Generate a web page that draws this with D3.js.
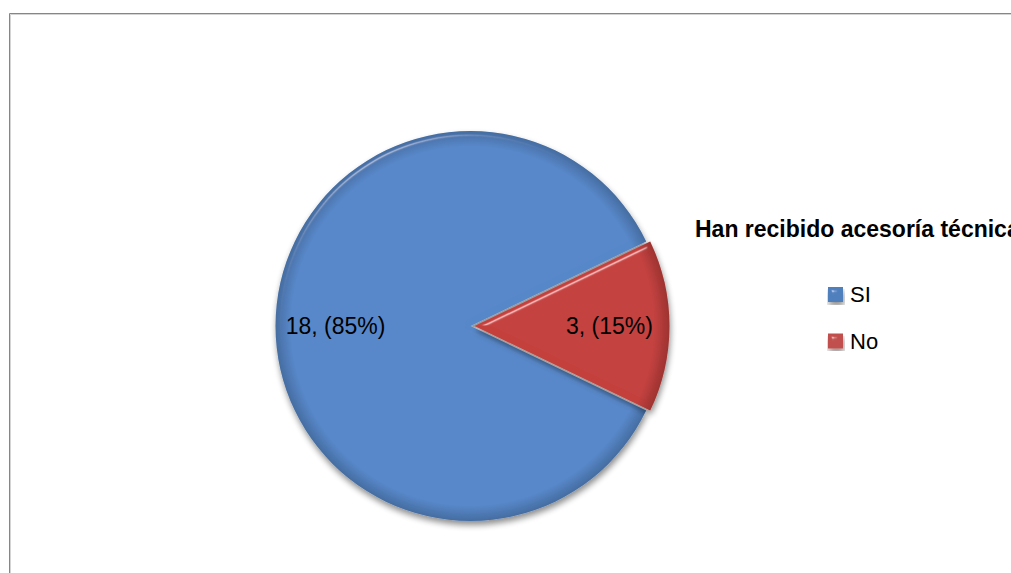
<!DOCTYPE html>
<html>
<head>
<meta charset="utf-8">
<script src="https://cdn.jsdelivr.net/npm/d3@7"></script>
<style>
  html, body { margin: 0; padding: 0; background: #fff; overflow: hidden; }
  text { font-family: "Liberation Sans", Arial, sans-serif; }
</style>
</head>
<body>
<div id="chart"></div>
<script>
var title = 'Han recibido acesoría técnica';
var categories = ['SI', 'No'];
var values = [18, 3];
var percents = ['85%', '15%'];
var color = ['#5788c9', '#c4403d'];
var legendColor = ['#4f7fbd', '#c0504d'];

var width = 1011,
  height = 573;

var svg = d3.select('#chart')
  .append('svg')
  .attr('width', width)
  .attr('height', height)

var defs = svg.append('defs')

// soft shadow + bevel like the office chart
var f = defs.append('filter').attr('id', 'bevel')
  .attr('x', '-10%').attr('y', '-10%').attr('width', '120%').attr('height', '125%')
f.append('feGaussianBlur').attr('in', 'SourceAlpha').attr('stdDeviation', 3).attr('result', 'blur')
f.append('feOffset').attr('in', 'blur').attr('dx', 1).attr('dy', 4).attr('result', 'off')
f.append('feComponentTransfer').attr('in', 'off').attr('result', 'shadow')
  .append('feFuncA').attr('type', 'linear').attr('slope', 0.45)
f.append('feGaussianBlur').attr('in', 'SourceAlpha').attr('stdDeviation', 2.5).attr('result', 'blur2')
var spec = f.append('feSpecularLighting').attr('in', 'blur2')
  .attr('surfaceScale', 4).attr('specularConstant', 0.6)
  .attr('specularExponent', 70).attr('lighting-color', '#ffffff').attr('result', 'spec')
spec.append('feDistantLight').attr('azimuth', 240).attr('elevation', 45)
f.append('feComposite').attr('in', 'spec').attr('in2', 'SourceAlpha').attr('operator', 'in').attr('result', 'specIn')
f.append('feComposite').attr('in', 'SourceGraphic').attr('in2', 'specIn')
  .attr('operator', 'arithmetic').attr('k1', 0).attr('k2', 1).attr('k3', 0.7).attr('k4', 0).attr('result', 'lit')
var merge = f.append('feMerge')
merge.append('feMergeNode').attr('in', 'shadow')
merge.append('feMergeNode').attr('in', 'lit')

// dark rim gradient
var rg = defs.append('radialGradient').attr('id', 'rim')
  .attr('gradientUnits', 'userSpaceOnUse').attr('cx', 0).attr('cy', 0).attr('r', 195)
rg.append('stop').attr('offset', '0.92').attr('stop-color', '#000').attr('stop-opacity', 0)
rg.append('stop').attr('offset', '1').attr('stop-color', '#000').attr('stop-opacity', 0.2)

// frame
svg.append('path')
  .attr('d', 'M10.5,' + height + 'V14.5H' + width)
  .attr('fill', 'none').attr('stroke', '#d4d4d4').attr('stroke-width', 1)
svg.append('path')
  .attr('d', 'M9.5,' + height + 'V13.5H' + width)
  .attr('fill', 'none').attr('stroke', '#868686').attr('stroke-width', 1)

// pie
var radius = 195;
var g = svg.append('g')
  .attr('transform', 'translate(470.5,326)')

var start = Math.PI / 2 + Math.PI * values[1] / d3.sum(values);
var pie = d3.pie().sort(null)
  .startAngle(start).endAngle(start + 2 * Math.PI)
  .value(function (d) { return d; });

var path = d3.arc().outerRadius(radius).innerRadius(0);
var label = d3.arc().outerRadius(270).innerRadius(0);

var explode = [0, 4];

var arc = g.selectAll('.arc')
  .data(pie(values))
  .enter().append('g')
  .attr('class', 'arc')
  .attr('transform', function (d, i) {
    var a = (d.startAngle + d.endAngle) / 2;
    return 'translate(' + (Math.sin(a) * explode[i]) + ',' + (-Math.cos(a) * explode[i]) + ')';
  })

arc.append('path')
  .attr('d', path)
  .attr('fill', function (d, i) { return color[i]; })
  .attr('filter', 'url(#bevel)')

arc.append('path')
  .attr('d', path)
  .attr('fill', 'url(#rim)')

arc.append('text')
  .attr('transform', function (d) { return 'translate(' + label.centroid(d) + ')'; })
  .attr('text-anchor', 'middle')
  .attr('dy', '0.36em')
  .attr('font-size', 23)
  .attr('fill', '#000')
  .text(function (d, i) { return values[i] + ', (' + percents[i] + ')'; })

// title
svg.append('text')
  .attr('x', 695).attr('y', 237)
  .attr('font-size', 23).attr('font-weight', 'bold')
  .attr('fill', '#000')
  .text(title)

// legend
var y = d3.scalePoint().domain(categories).range([294.5, 341]);
var leg = svg.selectAll('.leg')
  .data(categories)
  .enter().append('g')
  .attr('class', 'leg')
  .attr('transform', function (d) { return 'translate(828,' + y(d) + ')'; })

leg.append('rect')
  .attr('x', 0).attr('y', -7.5).attr('width', 15).attr('height', 15)
  .attr('fill', function (d, i) { return legendColor[i]; })
  .attr('filter', 'url(#bevel)')

leg.append('text')
  .attr('x', 22).attr('y', 7.5)
  .attr('font-size', 22)
  .attr('fill', '#000')
  .text(function (d) { return d; })
</script>
</body>
</html>
